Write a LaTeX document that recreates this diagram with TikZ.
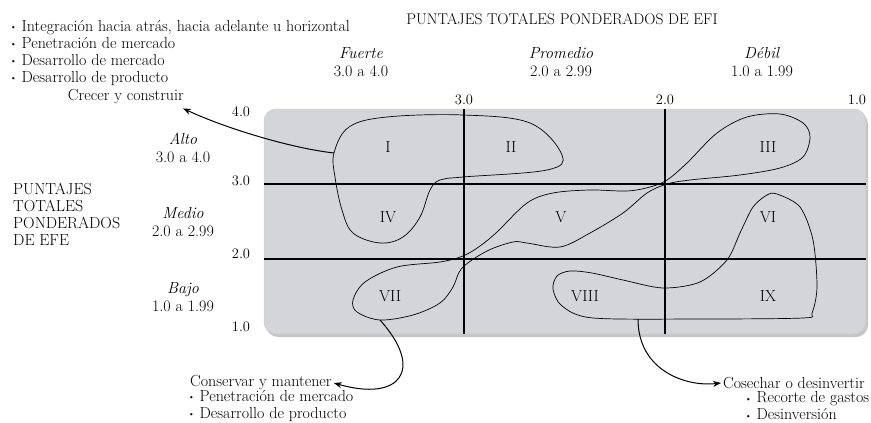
\documentclass[tikz,border=0pt]{standalone}
\usepackage{tikz}
\usetikzlibrary{arrows.meta,positioning,shadows}
\definecolor{panelgray}{RGB}{212,213,216}
\newcommand{\pbul}{\raisebox{0.25ex}{\fontsize{8}{8}\selectfont\textbullet}\ }

\begin{document}
\begin{tikzpicture}[x=1pt, y=-1pt,
  txt/.style={font=\fontsize{16}{17}\selectfont, inner sep=0pt},
  hdr/.style={txt, align=center, font=\fontsize{16}{18}\selectfont},
  tick/.style={font=\fontsize{14.5}{15}\selectfont, inner sep=0pt},
  panel/.style={rounded corners=12pt, fill=panelgray, draw=gray!45,
    drop shadow={shadow xshift=2pt, shadow yshift=-3pt, opacity=0.45}},
  gridline/.style={line width=2.4pt},
  blob/.style={line width=0.7pt},
  link/.style={line width=1pt, -{Stealth[length=8pt,width=6pt]}}
]
\useasboundingbox (0,0) rectangle (871,423);

% panel and grid
\node[panel, minimum width=602pt, minimum height=225pt, inner sep=0pt] (panel) at (565,221.5) {};
\draw[gridline] (464,109) -- (464,334);
\draw[gridline] (665,109) -- (665,334);
\draw[gridline] (264,184) -- (866,184);
\draw[gridline] (264,259) -- (866,259);

% titles
\node[txt, font=\fontsize{15.5}{17}\selectfont] (efititle) at (562,19) {PUNTAJES TOTALES PONDERADOS DE EFI};
\node[txt, anchor=west, align=left] (efetitle) at (13,214) {PUNTAJES\\TOTALES\\PONDERADOS\\DE EFE};

% column and row headers
\node[hdr] (fuerte) at (361,62) {\textit{Fuerte}\\3.0 a 4.0};
\node[hdr] (promedio) at (561,62) {\textit{Promedio}\\2.0 a 2.99};
\node[hdr] (debil) at (762,62) {\textit{Débil}\\1.0 a 1.99};
\node[hdr] (alto) at (183,148) {\textit{Alto}\\3.0 a 4.0};
\node[hdr] (medio) at (183,222) {\textit{Medio}\\2.0 a 2.99};
\node[hdr] (bajo) at (183,297) {\textit{Bajo}\\1.0 a 1.99};

% scale values
\node[tick] (tx3) at (464,100) {3.0};
\node[tick] (tx2) at (665,100) {2.0};
\node[tick] (tx1) at (857,100) {1.0};
\node[tick] (ty4) at (241,112) {4.0};
\node[tick] (ty3) at (241,181) {3.0};
\node[tick] (ty2) at (241,254) {2.0};
\node[tick] (ty1) at (241,327) {1.0};

% cells
\node[txt] (qI) at (388,147) {I};
\node[txt] (qII) at (511,147) {II};
\node[txt] (qIII) at (768,147) {III};
\node[txt] (qIV) at (388,217) {IV};
\node[txt] (qV) at (561,217) {V};
\node[txt] (qVI) at (768,217) {VI};
\node[txt] (qVII) at (390,296) {VII};
\node[txt] (qVIII) at (585,296) {VIII};
\node[txt] (qIX) at (768,296) {IX};

% regions
\draw[blob] plot[smooth cycle, tension=0.6] coordinates {
  (334,153) (349,127) (387,117) (463,115) (530,123) (562,155) (547,170)
  (463,177) (440,180) (430,190) (420,217) (403,237) (380,243)
  (353,233) (342,210) (335,177)};
\draw[blob] plot[smooth cycle, tension=0.55] coordinates {
  (380,320) (357,312) (353,300) (365,282) (397,267) (440,262) (463,256)
  (480,246) (497,232) (527,203) (553,193) (590,190) (627,191) (650,187)
  (667,180) (687,163) (717,133) (747,117) (780,114) (803,123) (810,137)
  (803,157) (780,168) (740,175) (690,180) (667,184) (647,193) (623,213)
  (590,233) (560,247) (527,243) (513,242) (487,251) (462,268) (453,287)
  (440,303) (413,315)};
\draw[blob] plot[smooth cycle, tension=0.5] coordinates {
  (777,194) (800,207) (813,240) (817,287) (812,313) (803,318) (700,319)
  (593,318) (562,306) (553,289) (557,276) (570,271) (592,273) (623,280)
  (663,288) (700,282) (727,260) (740,233) (753,207) (767,195)};

% strategy texts
\node[txt, anchor=west, align=left] (growlist) at (10,53)
  {\pbul Integración hacia atrás, hacia adelante u horizontal\\
   \pbul Penetración de mercado\\
   \pbul Desarrollo de mercado\\
   \pbul Desarrollo de producto};
\node[txt, anchor=east] (crecer) at (184,97) {Crecer y construir};
\node[txt, anchor=west] (conserv) at (190,383) {Conservar y mantener};
\node[txt, anchor=west, align=left] (keeplist) at (188,406)
  {\pbul Penetración de mercado\\ \pbul Desarrollo de producto};
\node[txt, anchor=west] (cosechar) at (723,383) {Cosechar o desinvertir};
\node[txt, anchor=west, align=left] (harvestlist) at (745,406)
  {\pbul Recorte de gastos\\ \pbul Desinversión};

% links
\coordinate (growfrom) at (334,153);
\coordinate (keepfrom) at (380,320);
\coordinate (harvestfrom) at (638,319);
\draw[link] (growfrom) .. controls (290,148) and (225,128) .. ([xshift=-1pt,yshift=-4pt]crecer.south east);
\draw[link] (keepfrom) .. controls (425,370) and (400,402) .. ([xshift=2pt]conserv.east);
\draw[link] (harvestfrom) .. controls (638,370) and (685,387) .. ([xshift=-2pt]cosechar.west);
\end{tikzpicture}
\end{document}
